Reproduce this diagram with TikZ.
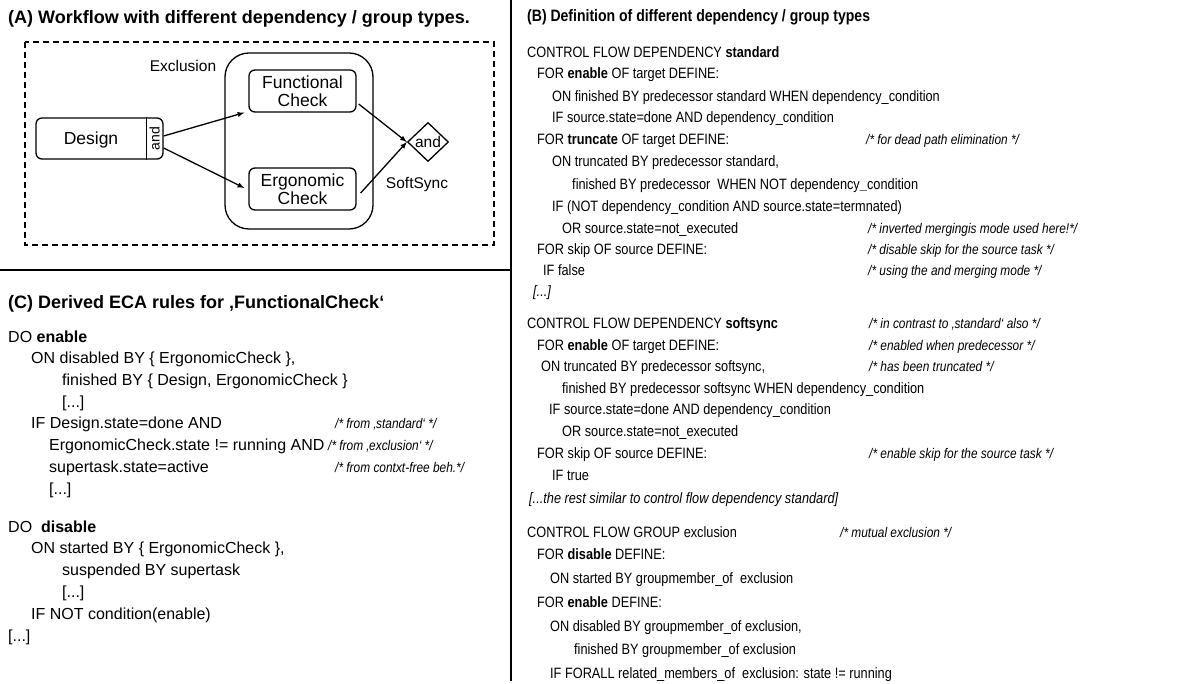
\documentclass[tikz,border=0pt]{standalone}
\usepackage{fontspec}
\setmainfont{Liberation Sans}
\newfontfamily\narrowfont[FakeStretch=0.85]{Liberation Sans}
\usetikzlibrary{shapes.geometric,positioning}

\tikzset{
  task/.style={draw, rounded corners=6pt, line width=1.3pt, align=center, inner sep=0pt,
    font=\fontsize{17.5}{18.5}\selectfont},
  flow/.style={line width=1.3pt, -latex},
  paneltitle/.style={anchor=base west, inner sep=0pt, yshift=-6.5pt,
    font=\bfseries\fontsize{18}{21}\selectfont},
  cline/.style={anchor=base west, inner sep=0pt, yshift=-5.5pt, font=\fontsize{16}{19}\selectfont},
  bline/.style={anchor=base west, inner sep=0pt, yshift=-5.5pt, font=\narrowfont\fontsize{15}{18}\selectfont},
  cmt/.style={bline, font=\narrowfont\itshape\fontsize{14}{17}\selectfont},
}

\begin{document}
\begin{tikzpicture}[x=1pt, y=-1pt]
\useasboundingbox (0,0) rectangle (1187,684);

% Define the panel dividers
\coordinate (top) at (511,0);
\coordinate (bottom) at (511,681);
\coordinate (left) at (0,270);
\draw[line width=2pt] (top) -- (bottom);
\draw[line width=1.5pt] (left) -- (top |- left);

% Panel titles
\node[paneltitle] (title-a) at (8,17) {(A) Workflow with different dependency / group types.};
\node[paneltitle, font=\narrowfont\bfseries\fontsize{16.5}{20}\selectfont] (title-b) at (527,15) {(B) Definition of different dependency / group types};
\node[paneltitle] (title-c) at (8,302) {(C) Derived ECA rules for ‚FunctionalCheck‘};

%%%%%%%%%%

% Draw the workflow frame
\draw[line width=1.5pt, dash pattern=on 6pt off 4pt] (25,42) rectangle (494,245);

% Draw the exclusion group
\node[draw, rounded corners=24pt, line width=1.3pt, minimum width=148pt, minimum height=176pt] (excl) at (299,141) {};
\node[font=\fontsize{15.5}{17}\selectfont] (excl-lbl) at (183,66) {Exclusion};

% Draw the tasks
\node[task, minimum width=127pt, minimum height=41pt] (design) at (99.5,138.5) {};
\node[font=\fontsize{17.5}{18.5}\selectfont] (design-lbl) at (91,140) {Design};
\draw[line width=1.3pt] ([xshift=-17pt]design.north east) -- ([xshift=-17pt]design.south east);
\node[rotate=90, inner sep=0pt, font=\fontsize{14}{15}\selectfont] (split) at (154.5,138.5) {and};

\node[task, minimum width=107pt, minimum height=42pt] (func) at (302.5,91) {Functional\\Check};
\node[task, minimum width=107pt, minimum height=42pt] (ergo) at (302.5,189) {Ergonomic\\Check};

% Draw the join
\node[draw, diamond, line width=1.3pt, inner sep=0pt, minimum width=41pt, minimum height=39pt,
  font=\fontsize{15.5}{17}\selectfont] (join) at (428,142) {and};
\node[font=\fontsize{15.5}{17}\selectfont] (soft-lbl) at (417,185) {SoftSync};

% Draw the dependencies
\draw[flow] ([yshift=2.5pt]design.east) -- ([xshift=-4pt]func.south west);
\draw[flow] ([yshift=-9.5pt]design.east) -- ([xshift=-4pt,yshift=1pt]ergo.west);
\draw[flow] ([xshift=2pt,yshift=-13pt]func.east) -- (join.west);
\draw[flow] ([xshift=4pt,yshift=-4pt]ergo.east) -- (join.west);

%%%%%%%%%%

% Definitions of the types
\foreach \x/\y/\txt [count=\i] in {
  527/52/{CONTROL FLOW DEPENDENCY \textbf{standard}},
  537/73/{FOR \textbf{enable} OF target DEFINE:},
  552/96/{ON finished BY predecessor standard WHEN dependency\_condition},
  552/117/{IF source.state=done AND dependency\_condition},
  537/139/{FOR \textbf{truncate} OF target DEFINE:},
  552/161/{ON truncated BY predecessor standard,},
  572/184/{finished BY predecessor\ \ WHEN NOT dependency\textbf{\_}condition},
  552/206/{IF (NOT dependency\_condition AND source.state=termnated)},
  562/228/{OR source.state=not\_executed},
  537/249/{FOR skip OF source DEFINE:},
  543/270/{IF false},
  533/291/{\textit{[...]}},
  527/323/{CONTROL FLOW DEPENDENCY \textbf{softsync}},
  537/345/{FOR \textbf{enable} OF target DEFINE:},
  541/366/{ON truncated BY predecessor softsync,},
  562/388/{finished BY predecessor softsync WHEN dependency\_condition},
  549/409/{IF source.state=done AND dependency\_condition},
  562/431/{OR source.state=not\_executed},
  537/453/{FOR skip OF source DEFINE:},
  552/475/{IF true},
  529/498/{\textit{[...the rest similar to control flow dependency standard]}},
  527/532/{CONTROL FLOW GROUP exclusion},
  537/554/{FOR \textbf{disable} DEFINE:},
  550/578/{ON started BY groupmember\_of\ \ exclusion},
  537/602/{FOR \textbf{enable} DEFINE:},
  550/626/{ON disabled BY groupmember\_of exclusion,},
  574/649/{finished BY groupmember\_of exclusion},
  550/673/{IF FORALL related\_members\_of\ \ exclusion: state != running}}
  \node[bline] (def-\i) at (\x,\y) {\txt};

\foreach \x/\y/\txt [count=\i] in {
  866/139/{/* for dead path elimination */},
  868/228/{/* inverted mergingis mode used here!*/},
  868/249/{/* disable skip for the source task */},
  868/270/{/* using the and merging mode */},
  869/323/{/* in contrast to ‚standard‘ also */},
  869/345/{/* enabled when predecessor */},
  869/366/{/* has been truncated */},
  869/453/{/* enable skip for the source task */},
  840/532/{/* mutual exclusion */}}
  \node[cmt] (def-cmt-\i) at (\x,\y) {\txt};

%%%%%%%%%%

% Derived rules
\foreach \x/\y/\txt [count=\i] in {
  8/337/{DO \textbf{enable}},
  31/358/{ON disabled BY \{ ErgonomicCheck \},},
  62/380/{finished BY \{ Design, ErgonomicCheck \}},
  62/402/{[...]},
  31/423/{IF Design.state=done AND},
  49/445/{ErgonomicCheck.state != running AND},
  49/467/{supertask.state=active},
  49/489/{[...]},
  8/527/{DO\ \ \textbf{disable}},
  31/548/{ON started BY \{ ErgonomicCheck \},},
  62/570/{suspended BY supertask},
  62/592/{[...]},
  31/614/{IF NOT condition(enable)},
  8/636/{[...]}}
  \node[cline] (rule-\i) at (\x,\y) {\txt};

\foreach \x/\y/\txt [count=\i] in {
  335/423/{/* from ‚standard‘ */},
  328/445/{/* from ‚exclusion‘ */},
  335/467/{/* from contxt-free beh.*/}}
  \node[cmt] (rule-cmt-\i) at (\x,\y) {\txt};
\end{tikzpicture}
\end{document}
